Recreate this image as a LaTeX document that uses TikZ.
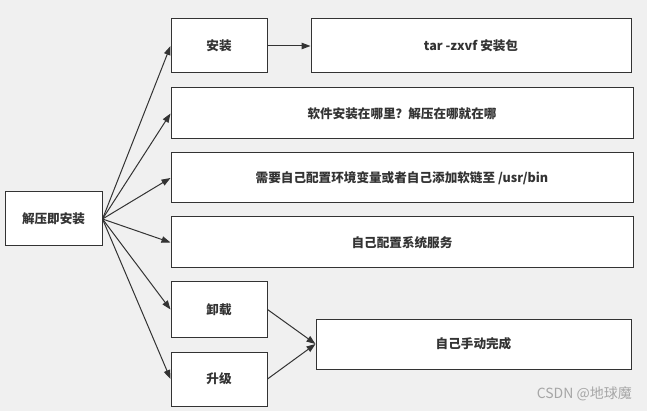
\documentclass[tikz,border=0pt]{standalone}
\usepackage{fontspec}
\newfontfamily\cjk{Noto Sans CJK SC}
\usetikzlibrary{arrows.meta}
\definecolor{bg}{HTML}{F0F0F0}
\definecolor{ln}{HTML}{333333}
\tikzset{
  box/.style={draw=ln, line width=1pt, fill=white, inner sep=0pt, font=\cjk\bfseries\fontsize{12.6}{14}\selectfont, text=black!80},
  arr/.style={draw=ln, line width=1pt, -{Triangle[length=9pt,width=6.5pt]}},
}
\begin{document}
\begin{tikzpicture}[x=1pt,y=-1pt]
\fill[bg] (0,0) rectangle (647,411);
\useasboundingbox (0,0) rectangle (647,411);
\node[box, minimum width=97pt, minimum height=54pt] (root) at (53.5,219) {解压即安装};
\node[box, minimum width=96pt, minimum height=54pt] (install) at (219,46) {安装};
\node[box, minimum width=320pt, minimum height=54pt] (tar) at (471,46) {tar -zxvf 安装包};
\node[box, minimum width=462pt, minimum height=51pt] (where) at (402,113.5) {软件安装在哪里？解压在哪就在哪};
\node[box, minimum width=462pt, minimum height=50pt] (env) at (402,178) {需要自己配置环境变量或者自己添加软链至 /usr/bin};
\node[box, minimum width=462pt, minimum height=51pt] (svc) at (402,242.5) {自己配置系统服务};
\node[box, minimum width=96pt, minimum height=55pt] (uninst) at (219,309.5) {卸载};
\node[box, minimum width=96pt, minimum height=54pt] (upg) at (219,379) {升级};
\node[box, minimum width=315pt, minimum height=50pt] (manual) at (473.5,344) {自己手动完成};
\node[font=\cjk\fontsize{14}{16}\selectfont, text=black!35, anchor=east, inner sep=0pt] (wm) at (632,394) {CSDN @地球魔};
\draw[arr] (root.east) -- (install.west);
\draw[arr] (root.east) -- (where.west);
\draw[arr] (root.east) -- (env.west);
\draw[arr] (root.east) -- (svc.west);
\draw[arr] (root.east) -- (uninst.west);
\draw[arr] (root.east) -- (upg.west);
\draw[arr] (install.east) -- (tar.west);
\draw[arr] (uninst.east) -- (manual.west);
\draw[arr] (upg.east) -- (manual.west);
\end{tikzpicture}
\end{document}
